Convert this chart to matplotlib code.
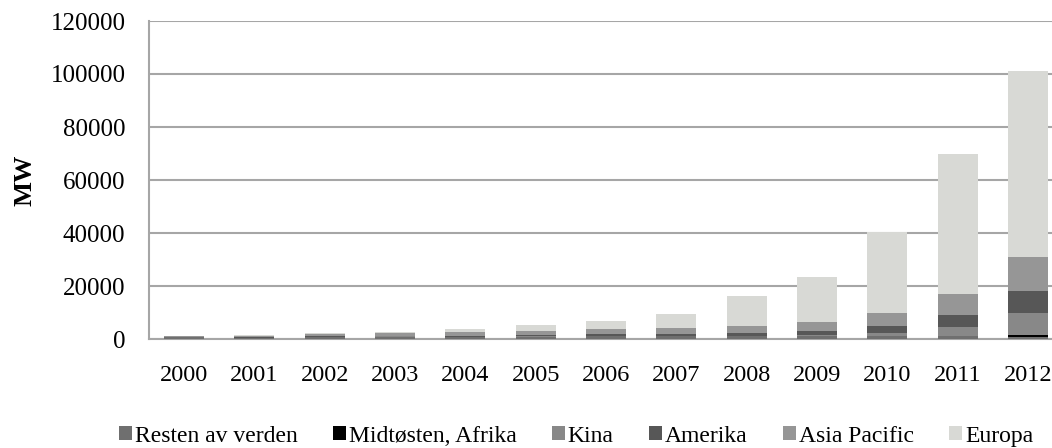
import numpy as np
import matplotlib
matplotlib.use('Agg')
import matplotlib.pyplot as plt

plt.rcParams['font.family'] = ['Liberation Serif', 'DejaVu Serif']

# installert PV-kapasitet (MW), akkumulert per region
aar = ['2000', '2001', '2002', '2003', '2004', '2005', '2006',
       '2007', '2008', '2009', '2010', '2011', '2012']
resten = [580, 530, 790, 910, 830, 920, 1050, 950, 1090, 1215, 1180, 1050, 750]
midtosten = [0, 0, 0, 0, 1, 1, 1, 5, 10, 25, 80, 200, 750]
kina = [20, 25, 40, 50, 60, 70, 80, 100, 140, 300, 1000, 3170, 8300]
amerika = [150, 180, 220, 290, 380, 500, 650, 860, 1210, 1620, 2640, 4640, 8400]
asia = [370, 500, 690, 920, 1200, 1500, 1830, 2100, 2630, 3390, 5000, 7900, 12800]
europa = [130, 265, 400, 600, 1300, 2290, 3290, 5310, 11020, 16950, 30400, 52800, 70000]

serier = [('Resten av verden', resten, '#6f6f6f'),
          ('Midtøsten, Afrika', midtosten, '#000000'),
          ('Kina', kina, '#888888'),
          ('Amerika', amerika, '#575757'),
          ('Asia Pacific', asia, '#969696'),
          ('Europa', europa, '#d8d9d5')]

fig = plt.figure(figsize=(10.52, 4.48), dpi=100)
ax = fig.add_axes([149/1052, 1-339/448, (1063-149)/1052, (339-21)/448])

x = np.arange(len(aar))
bunn = np.zeros(len(aar))
for navn, verdier, farge in serier:
    ax.bar(x, verdier, 0.57, bottom=bunn, color=farge, label=navn, zorder=3)
    bunn += np.array(verdier)

ax.set_xlim(-0.5, len(aar) - 0.5)
ax.set_ylim(0, 120000)
ax.set_yticks(np.arange(0, 120001, 20000))
ax.set_xticks(x)
ax.set_xticklabels(aar)
ax.yaxis.grid(True, color='#a6a6a6', linewidth=1.5, zorder=0)
ax.tick_params(axis='x', length=0, labelsize=17.5, pad=19)
ax.tick_params(axis='y', length=0, labelsize=18, pad=17)
for s in ['top', 'right']:
    ax.spines[s].set_visible(False)
ax.spines['left'].set_color('#a6a6a6')
ax.spines['bottom'].set_color('#a6a6a6')
ax.spines['left'].set_linewidth(1.5)
ax.spines['bottom'].set_linewidth(1.5)

ax.set_ylabel('MW', fontsize=19, fontweight='bold', labelpad=10)

fig.legend(loc='center', bbox_to_anchor=(576/1052, 1-436/448), ncol=6,
           frameon=False, fontsize=17, handlelength=0.55, handleheight=0.55,
           handletextpad=0.12, columnspacing=1.5)

fig.savefig('out.png', dpi=100)
